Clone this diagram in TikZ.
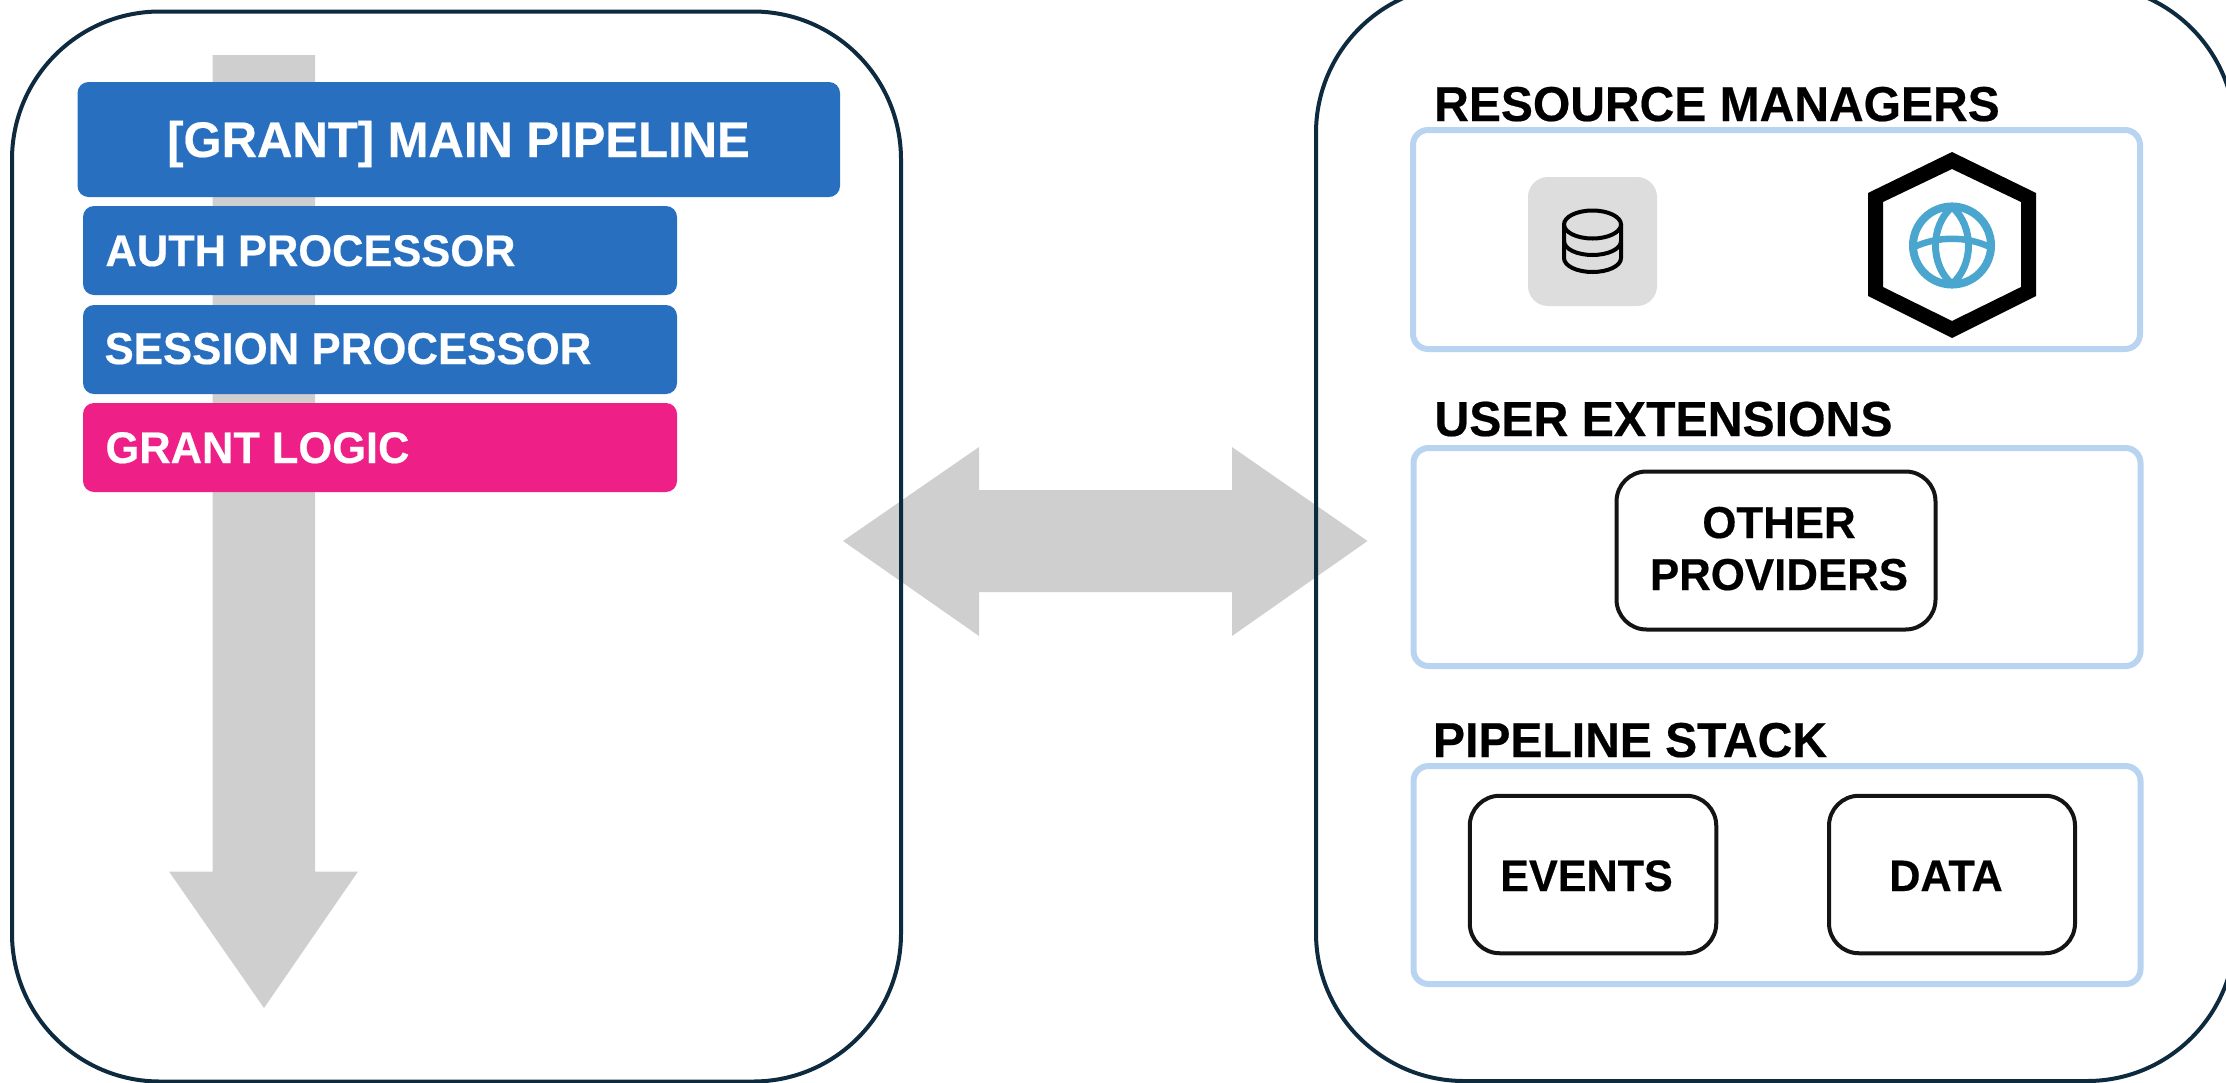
\documentclass[tikz,border=0pt]{standalone}
\usepackage{fontspec}
\setmainfont[FakeStretch=0.98,BoldFeatures={FakeStretch=0.98,FakeBold=0.4}]{Liberation Sans}
\definecolor{panelline}{HTML}{0E2A3F}
\definecolor{arrowgray}{HTML}{CFCFCF}
\definecolor{procblue}{HTML}{2870BF}
\definecolor{logicpink}{HTML}{EE2087}
\definecolor{groupblue}{HTML}{B8D4F0}
\definecolor{iconbg}{HTML}{DDDDDD}
\definecolor{globeblue}{HTML}{4BA6CF}
\newcommand{\fs}[1]{\fontsize{#1pt}{#1pt}\selectfont\bfseries}
\tikzset{
  panel/.style={draw=panelline,line width=4pt,rounded corners=148pt,inner sep=0pt},
  blockarrow/.style={fill=arrowgray,draw=none},
  procbox/.style={fill=procblue,rounded corners=11pt,inner sep=0pt},
  logicbox/.style={fill=logicpink,rounded corners=11pt,inner sep=0pt},
  groupbox/.style={draw=groupblue,line width=6pt,rounded corners=15pt,inner sep=0pt},
  itembox/.style={draw=black!92,line width=4pt,rounded corners=30pt,inner sep=0pt},
  whitelabel/.style={text=white,inner sep=0pt,anchor=base},
  blacklabel/.style={text=black,inner sep=0pt,anchor=base},
}
\begin{document}
\begin{tikzpicture}[x=1pt,y=-1pt]
\useasboundingbox (0,0) rectangle (2226,1082);
\clip (0,0) rectangle (2226,1082);
% grey block arrows
\path[blockarrow] (212.5,55) -- (315,55) -- (315,871.5) -- (358,871.5) -- (264,1008) -- (169,871.5) -- (212.5,871.5) -- cycle;
\path[blockarrow] (843,541) -- (979,447) -- (979,490) -- (1232,490) -- (1232,447) -- (1367.5,541) -- (1232,636) -- (1232,592) -- (979,592) -- (979,636) -- cycle;
% panels
\node[panel,minimum width=889pt,minimum height=1070pt] (left) at (456.5,546.5) {};
\node[panel,minimum width=919pt,minimum height=1096pt] (right) at (1775.5,533) {};
% pipeline boxes
\node[procbox,minimum width=762.5pt,minimum height=115pt] (main) at (458.75,139.5) {};
\node[procbox,minimum width=594pt,minimum height=89pt] (auth) at (380,250.5) {};
\node[procbox,minimum width=594pt,minimum height=89pt] (session) at (380,349.5) {};
\node[logicbox,minimum width=594pt,minimum height=89pt] (logic) at (380,447.5) {};
\node[whitelabel] (mainl) at (458.5,157) {\fs{50}[GRANT] MAIN PIPELINE};
\node[whitelabel] (authl) at (310.5,266) {\fs{44.3}AUTH PROCESSOR};
\node[whitelabel] (sessionl) at (348,364) {\fs{44.7}SESSION PROCESSOR};
\node[whitelabel] (logicl) at (257.5,463) {\fs{44.3}GRANT LOGIC};
% groups
\node[groupbox,minimum width=727pt,minimum height=219pt] (res) at (1776.5,239.5) {};
\node[groupbox,minimum width=727pt,minimum height=218pt] (ext) at (1777,557) {};
\node[groupbox,minimum width=727pt,minimum height=218pt] (stack) at (1777,875) {};
\node[blacklabel] (resl) at (1717,121) {\fs{49}RESOURCE MANAGERS};
\node[blacklabel] (extl) at (1663.5,436) {\fs{49.2}USER EXTENSIONS};
\node[blacklabel] (stackl) at (1630,757) {\fs{49}PIPELINE STACK};
% items
\node[itembox,minimum width=319pt,minimum height=158pt] (other) at (1776,550.5) {};
\node[blacklabel] (otherl) at (1779,538) {\fs{44.7}OTHER};
\node[blacklabel] (otherl2) at (1779,590) {\fs{44.7}PROVIDERS};
\node[itembox,minimum width=246.5pt,minimum height=157.5pt] (events) at (1593,874.5) {};
\node[itembox,minimum width=246pt,minimum height=157.5pt] (data) at (1952,874.5) {};
\node[blacklabel] (eventsl) at (1586.5,891) {\fs{44}EVENTS};
\node[blacklabel] (datal) at (1946,891) {\fs{44}DATA};
% database icon
\node[fill=iconbg,rounded corners=20pt,inner sep=0pt,minimum width=129pt,minimum height=129pt] (dbbg) at (1592.5,241.5) {};
\draw[black,line width=4pt] (1592.5,224.5) ellipse [x radius=28.5pt,y radius=14pt];
\draw[black,line width=4pt] (1564,224.5) -- (1564,258) .. controls (1564,266) and (1577,272) .. (1592.5,272) .. controls (1608,272) and (1621,266) .. (1621,258) -- (1621,224.5);
\draw[black,line width=4pt] (1564,241) .. controls (1564,249) and (1577,255) .. (1592.5,255) .. controls (1608,255) and (1621,249) .. (1621,241);
% hexagon icon
\path[fill=black,even odd rule] (1952,152) -- (2036,193) -- (2036,296) -- (1952,338) -- (1868,296) -- (1868,193) -- cycle
  (1952,169) -- (2021,202) -- (2021,287) -- (1952,321) -- (1883,287) -- (1883,202) -- cycle;
% globe
\draw[globeblue,line width=8pt] (1952,245.5) circle [radius=39pt];
\draw[globeblue,line width=7pt] (1952,207) .. controls (1930,226) and (1930,265) .. (1952,284) .. controls (1974,265) and (1974,226) .. (1952,207) -- cycle;
\draw[globeblue,line width=6.5pt] (1914,247) .. controls (1938,236) and (1966,236) .. (1990,247);
\end{tikzpicture}
\end{document}
